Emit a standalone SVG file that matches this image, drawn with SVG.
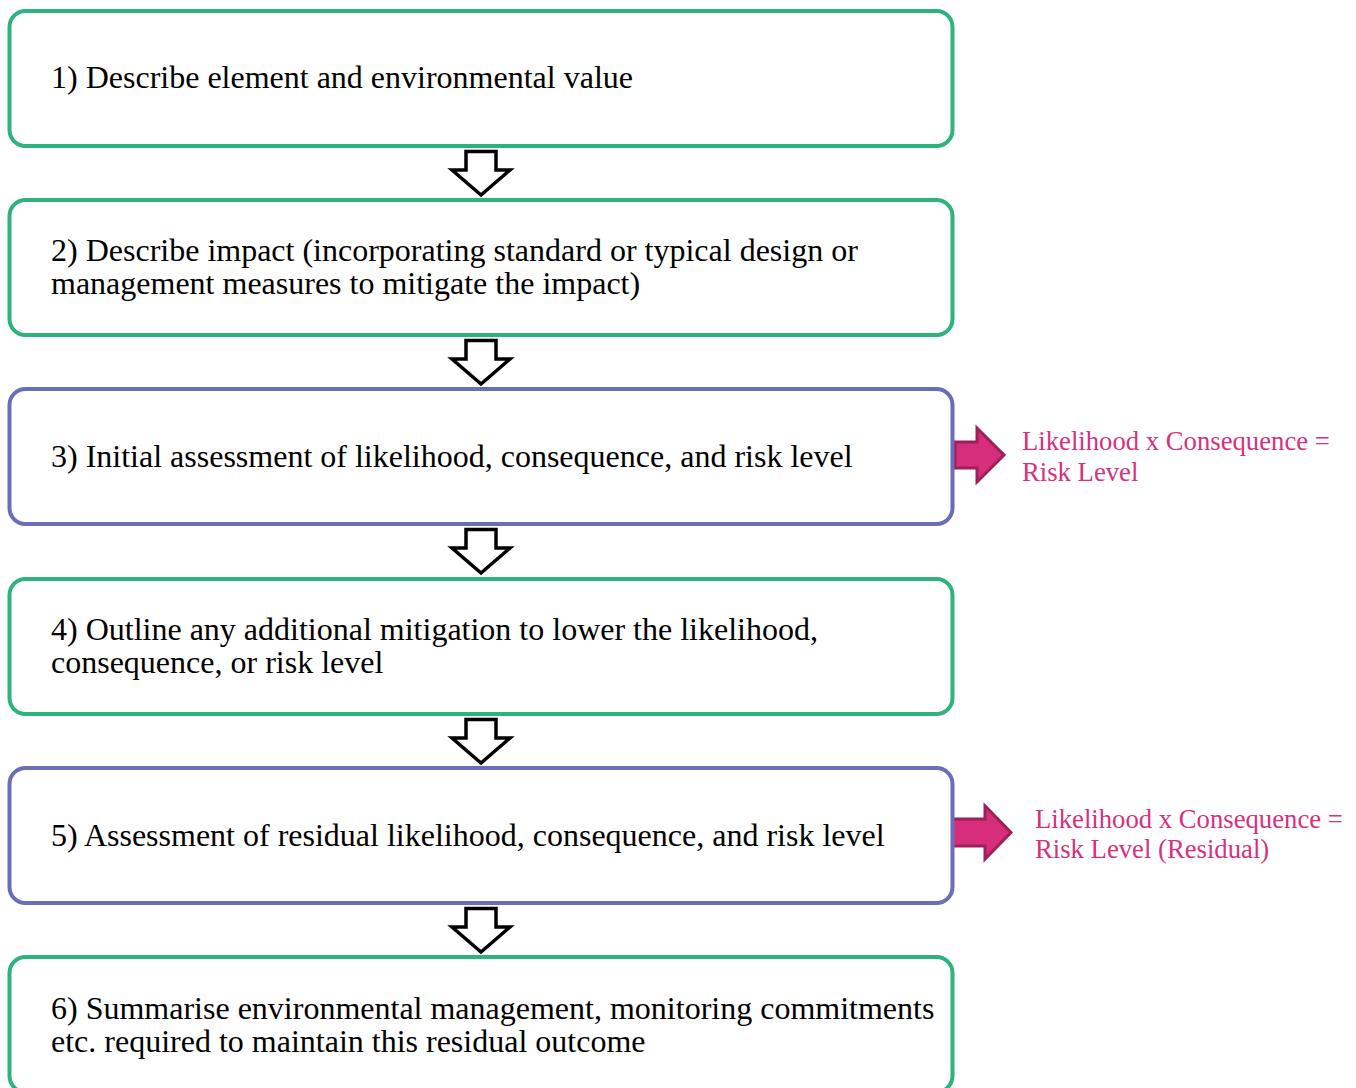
<svg xmlns="http://www.w3.org/2000/svg" width="1356" height="1088" viewBox="0 0 1356 1088">
<style>
.box{fill:#fff;stroke-width:4}
.g{stroke:#2DB37B}
.b{stroke:#6B6DB8}
.t{font-family:"Liberation Serif","Times New Roman",serif;font-size:32px;fill:#000}
.p{font-family:"Liberation Serif","Times New Roman",serif;font-size:26.7px;fill:#D6307E}
.down{fill:#fff;stroke:#000;stroke-width:3.5;stroke-linejoin:miter}
.side{fill:#D62E7A;stroke:#9E1F5A;stroke-width:3;stroke-linejoin:miter}
</style>
<rect width="1356" height="1088" fill="#fff"/>
<g id="connectors">
<path class="down" d="M466,151.5 H496 V170 H510 L481,195 L452,170 H466 Z"/>
<path class="down" d="M466,340.5 H496 V359 H510 L481,384 L452,359 H466 Z"/>
<path class="down" d="M466,529.5 H496 V548 H510 L481,573 L452,548 H466 Z"/>
<path class="down" d="M466,719.5 H496 V738 H510 L481,763 L452,738 H466 Z"/>
<path class="down" d="M466,908.5 H496 V927 H510 L481,952 L452,927 H466 Z"/>
<path class="side" d="M955,442 H977 V428 L1004,455 L977,482 V468 H955 Z"/>
<path class="side" d="M950,819 H985 V806 L1011,832.5 L985,859 V846 H950 Z"/>
</g>
<g id="n1"><rect class="box g" x="9.5" y="11" width="943" height="135" rx="16"/><text class="t" x="51" y="88">1) Describe element and environmental value</text></g>
<g id="n2"><rect class="box g" x="9.5" y="200" width="943" height="135" rx="16"/><text class="t" x="51" y="261">2) Describe impact (incorporating standard or typical design or</text><text class="t" x="51" y="294">management measures to mitigate the impact)</text></g>
<g id="n3"><rect class="box b" x="9.5" y="389" width="943" height="135" rx="16"/><text class="t" x="51" y="467">3) Initial assessment of likelihood, consequence, and risk level</text></g>
<g id="n4"><rect class="box g" x="9.5" y="579" width="943" height="135" rx="16"/><text class="t" x="51" y="640">4) Outline any additional mitigation to lower the likelihood,</text><text class="t" x="51" y="673">consequence, or risk level</text></g>
<g id="n5"><rect class="box b" x="9.5" y="768" width="943" height="135" rx="16"/><text class="t" x="51" y="846">5) Assessment of residual likelihood, consequence, and risk level</text></g>
<g id="n6"><rect class="box g" x="9.5" y="957" width="943" height="135" rx="16"/><text class="t" x="51" y="1019">6) Summarise environmental management, monitoring commitments</text><text class="t" x="51" y="1052">etc. required to maintain this residual outcome</text></g>
<g id="l1"><text class="p" x="1022" y="450">Likelihood x Consequence =</text><text class="p" x="1022" y="481">Risk Level</text></g>
<g id="l2"><text class="p" x="1035" y="828">Likelihood x Consequence =</text><text class="p" x="1035" y="858">Risk Level (Residual)</text></g>
</svg>
